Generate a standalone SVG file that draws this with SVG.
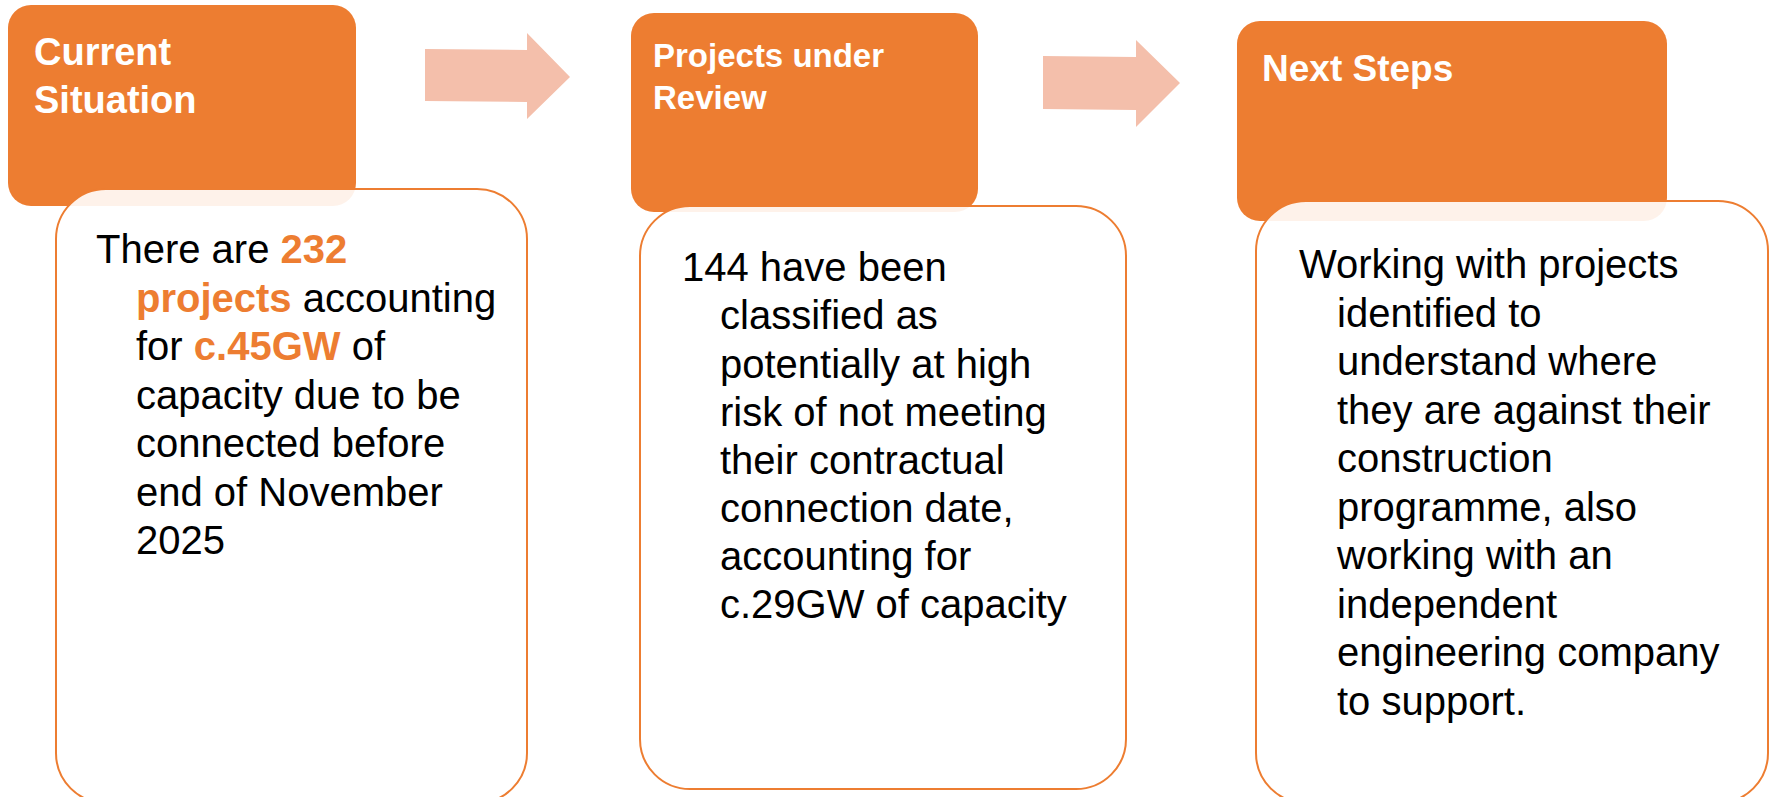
<svg xmlns="http://www.w3.org/2000/svg" width="1769" height="797" viewBox="0 0 1769 797">
<style>
.hdr{fill:#ED7D31}
.box{fill:#FFFFFF;fill-opacity:0.9;stroke:#ED7D31;stroke-width:2}
.arrow{fill:#F4BFAB}
.ht{font-family:"Liberation Sans",Arial,sans-serif;font-weight:bold;fill:#FFFFFF}
.bt{font-family:"Liberation Sans",Arial,sans-serif;font-size:40px;fill:#000000}
.hl{font-weight:bold;fill:#ED7D31}
</style>
<rect width="1769" height="797" fill="#FFFFFF"/>
<g id="connectors">
<polygon class="arrow" points="425,49 527,50 527,33 570,77 527,119 527,102 425,101"/>
<polygon class="arrow" points="1043,56 1136,57 1136,40 1180,83 1136,127 1136,110 1043,109"/>
</g>
<g id="node-current">
<rect class="hdr" x="8" y="5" width="348" height="201" rx="23"/>
<text class="ht" font-size="38"><tspan x="34" y="65">Current</tspan><tspan x="34" y="113">Situation</tspan></text>
<rect class="box" x="56" y="189" width="471" height="614" rx="50"/>
<text class="bt"><tspan x="96" y="263">There are <tspan class="hl">232</tspan></tspan><tspan x="136" y="311.5"><tspan class="hl">projects</tspan> accounting</tspan><tspan x="136" y="360">for <tspan class="hl">c.45GW</tspan> of</tspan><tspan x="136" y="408.5">capacity due to be</tspan><tspan x="136" y="457">connected before</tspan><tspan x="136" y="505.5">end of November</tspan><tspan x="136" y="554">2025</tspan></text>
</g>
<g id="node-review">
<rect class="hdr" x="631" y="13" width="347" height="199" rx="23"/>
<text class="ht" font-size="33"><tspan x="653" y="67">Projects under</tspan><tspan x="653" y="109">Review</tspan></text>
<rect class="box" x="640" y="206" width="486" height="583" rx="50"/>
<text class="bt"><tspan x="682" y="281">144 have been</tspan><tspan x="720" y="329">classified as</tspan><tspan x="720" y="377.5">potentially at high</tspan><tspan x="720" y="425.5">risk of not meeting</tspan><tspan x="720" y="474">their contractual</tspan><tspan x="720" y="522">connection date,</tspan><tspan x="720" y="570">accounting for</tspan><tspan x="720" y="618">c.29GW of capacity</tspan></text>
</g>
<g id="node-next">
<rect class="hdr" x="1237" y="21" width="430" height="200" rx="23"/>
<text class="ht" font-size="37"><tspan x="1262" y="81">Next Steps</tspan></text>
<rect class="box" x="1256" y="201" width="512" height="602" rx="50"/>
<text class="bt"><tspan x="1299" y="278">Working with projects</tspan><tspan x="1337" y="326.5">identified to</tspan><tspan x="1337" y="375">understand where</tspan><tspan x="1337" y="423.5">they are against their</tspan><tspan x="1337" y="472">construction</tspan><tspan x="1337" y="520.5">programme, also</tspan><tspan x="1337" y="569">working with an</tspan><tspan x="1337" y="617.5">independent</tspan><tspan x="1337" y="666">engineering company</tspan><tspan x="1337" y="714.5">to support.</tspan></text>
</g>
</svg>
